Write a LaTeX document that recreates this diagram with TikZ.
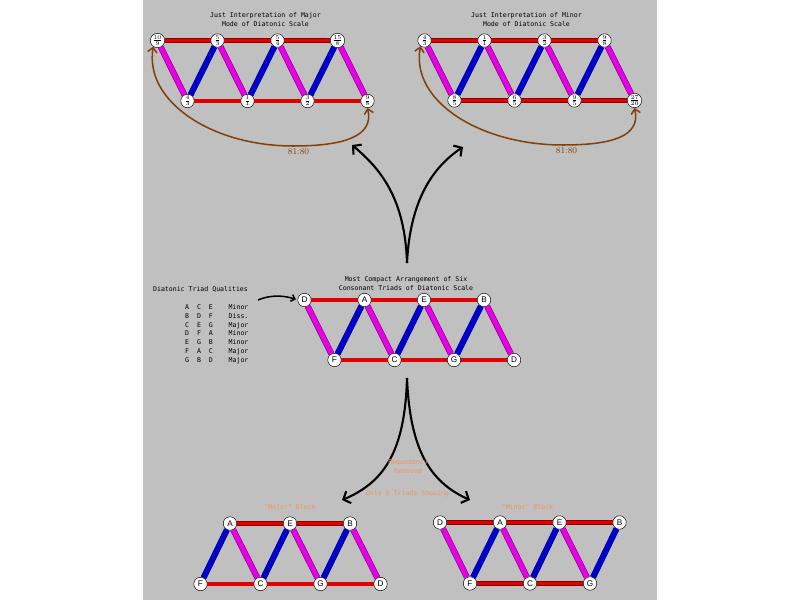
\documentclass[tikz,border=0pt]{standalone}
\usepackage{fontspec}
\usepackage{tikz}
\usetikzlibrary{arrows.meta}
\newfontfamily\monofont{DejaVu Sans Mono}
\newfontfamily\letterfont{Liberation Sans}
\definecolor{panel}{RGB}{192,192,192}
\definecolor{barred}{RGB}{225,0,0}
\definecolor{barblue}{RGB}{0,0,205}
\definecolor{barpink}{RGB}{230,0,230}
\definecolor{commabrown}{RGB}{130,65,10}
\definecolor{noteorange}{RGB}{245,145,95}

\tikzset{
  note/.style={circle, draw, fill=white, inner sep=0pt, minimum size=11.5pt,
    font=\letterfont\fontsize{7}{7}\selectfont},
  ratio/.style={note, font=\fontsize{6}{6}\selectfont},
  redbar/.style={draw=barred!60!black, double=barred, double distance=2.8pt, line width=0.5pt},
  bluebar/.style={draw=barblue!70!black, double=barblue, double distance=4.2pt, line width=0.5pt},
  pinkbar/.style={draw=barpink!55!black, double=barpink, double distance=4.2pt, line width=0.5pt},
  caption/.style={font=\monofont\fontsize{5.6}{7.6}\selectfont, align=center, inner sep=0pt},
  remark/.style={caption, text=noteorange},
  bigarrow/.style={line width=1.8pt, -{Straight Barb[length=5pt, width=11pt]}},
  smallarrow/.style={line width=1.3pt, -{Straight Barb[length=3pt, width=6pt]}},
  commaarrow/.style={commabrown, line width=1.3pt,
    {Straight Barb[length=4pt, width=8pt]}-{Straight Barb[length=4pt, width=8pt]}}
}

\begin{document}
\begin{tikzpicture}[x=0.03cm, y=-0.03cm]
\fill[white] (0,0) rectangle (800,600);
\fill[panel] (143,0) rectangle (657,600);
\useasboundingbox (0,0) rectangle (800,600);

% just intonation, major
\node[caption] (majTitle) at (265.5,20) {Just Interpretation of Major\\Mode of Diatonic Scale};
\node[ratio] (majD) at (157.5,40.5) {$\frac{10}{9}$};
\node[ratio] (majA) at (217.5,40.5) {$\frac{5}{3}$};
\node[ratio] (majE) at (277.5,40.5) {$\frac{5}{4}$};
\node[ratio] (majB) at (337.5,40.5) {$\frac{15}{8}$};
\node[ratio] (majF) at (187.5,101) {$\frac{4}{3}$};
\node[ratio] (majC) at (247.5,101) {$\frac{1}{1}$};
\node[ratio] (majG) at (307.5,101) {$\frac{3}{2}$};
\node[ratio] (majDD) at (367.5,101) {$\frac{9}{8}$};
\draw[redbar] (majD) -- (majA) -- (majE) -- (majB) (majF) -- (majC) -- (majG) -- (majDD);
\draw[pinkbar] (majD) -- (majF) (majA) -- (majC) (majE) -- (majG) (majB) -- (majDD);
\draw[bluebar] (majF) -- (majA) (majC) -- (majE) (majG) -- (majB);
\coordinate (majDip) at (293,146);
\draw[commaarrow] (majD.235) .. controls +(-9,55) and (212,146) .. (majDip)
  .. controls (345,146) and (374,136) .. (majDD.south);
\node[commabrown, font=\fontsize{7.5}{8}\selectfont] (majComma) at (298.5,151.5) {81:80};

% just intonation, minor
\node[caption] (minTitle) at (526.5,20) {Just Interpretation of Minor\\Mode of Diatonic Scale};
\node[ratio] (minD) at (424.5,40.5) {$\frac{4}{3}$};
\node[ratio] (minA) at (484.5,40.5) {$\frac{1}{1}$};
\node[ratio] (minE) at (544.5,40.5) {$\frac{3}{2}$};
\node[ratio] (minB) at (604.5,40.5) {$\frac{9}{8}$};
\node[ratio] (minF) at (454.5,100.5) {$\frac{8}{5}$};
\node[ratio] (minC) at (514.5,100.5) {$\frac{6}{5}$};
\node[ratio] (minG) at (574.5,100.5) {$\frac{9}{5}$};
\node[ratio] (minDD) at (634.5,100.5) {$\frac{27}{20}$};
\draw[redbar] (minD) -- (minA) -- (minE) -- (minB) (minF) -- (minC) -- (minG) -- (minDD);
\draw[pinkbar] (minD) -- (minF) (minA) -- (minC) (minE) -- (minG) (minB) -- (minDD);
\draw[bluebar] (minF) -- (minA) (minC) -- (minE) (minG) -- (minB);
\coordinate (minDip) at (563,145);
\draw[commaarrow] (minD.235) .. controls +(-10,55) and (480,145) .. (minDip)
  .. controls (613,145) and (641,136) .. (minDD.south);
\node[commabrown, font=\fontsize{7.5}{8}\selectfont] (minComma) at (566.5,151) {81:80};

% arrows up
\coordinate (forkUp) at (407,263);
\coordinate (toMajor) at (352,145);
\coordinate (toMinor) at (463,147);
\draw[bigarrow] (forkUp) .. controls (405,200) and (382,170) .. (toMajor);
\draw[bigarrow] (forkUp) .. controls (410,200) and (433,167) .. (toMinor);

% triad table
\node[caption] (tableTitle) at (200.5,289.5) {Diatonic Triad Qualities};
\node[caption, align=left, anchor=north west] (tableRows) at (185,304)
  {A\ \ C\ \ E\ \ \ \ Minor\\B\ \ D\ \ F\ \ \ \ Diss.\\C\ \ E\ \ G\ \ \ \ Major\\D\ \ F\ \ A\ \ \ \ Minor\\
   E\ \ G\ \ B\ \ \ \ Minor\\F\ \ A\ \ C\ \ \ \ Major\\G\ \ B\ \ D\ \ \ \ Major};

% compact arrangement
\node[caption] (midTitle) at (406,284) {Most Compact Arrangement of Six\\Consonant Triads of Diatonic Scale};
\node[note] (midD) at (304.5,300) {D};
\node[note] (midA) at (364.5,300) {A};
\node[note] (midE) at (424,300) {E};
\node[note] (midB) at (484,300) {B};
\node[note] (midF) at (334.5,360) {F};
\node[note] (midC) at (394.5,360) {C};
\node[note] (midG) at (454,360) {G};
\node[note] (midDD) at (514,360) {D};
\draw[redbar] (midD) -- (midA) -- (midE) -- (midB) (midF) -- (midC) -- (midG) -- (midDD);
\draw[pinkbar] (midD) -- (midF) (midA) -- (midC) (midE) -- (midG) (midB) -- (midDD);
\draw[bluebar] (midF) -- (midA) (midC) -- (midE) (midG) -- (midB);
\coordinate (tableEnd) at (258,300);
\draw[smallarrow, shorten >=1.5pt] (tableEnd) .. controls (272,294) and (286,296) .. (midD.west);

% arrows down
\coordinate (forkDown) at (407,378);
\coordinate (toMajBlock) at (342,500);
\coordinate (toMinBlock) at (470,500);
\draw[bigarrow] (forkDown) .. controls (405,450) and (385,482) .. (toMajBlock);
\draw[bigarrow] (forkDown) .. controls (410,450) and (430,482) .. (toMinBlock);
\node[remark] (redundancy) at (408,467) {Redundancy\\Removed};
\node[remark] (sixShown) at (407.5,494) {Only 5 Triads Showing};

% major block
\node[remark] (majBlockTitle) at (290,507.5) {"Major" Block};
\node[note] (mbA) at (230,523.5) {A};
\node[note] (mbE) at (290,523.5) {E};
\node[note] (mbB) at (350,523.5) {B};
\node[note] (mbF) at (200.5,584) {F};
\node[note] (mbC) at (260.5,584) {C};
\node[note] (mbG) at (320.5,584) {G};
\node[note] (mbD) at (380.5,584) {D};
\draw[redbar] (mbA) -- (mbE) -- (mbB) (mbF) -- (mbC) -- (mbG) -- (mbD);
\draw[pinkbar] (mbA) -- (mbC) (mbE) -- (mbG) (mbB) -- (mbD);
\draw[bluebar] (mbF) -- (mbA) (mbC) -- (mbE) (mbG) -- (mbB);

% minor block
\node[remark] (minBlockTitle) at (527.5,507) {"Minor" Block};
\node[note] (nbD) at (440,522.5) {D};
\node[note] (nbA) at (500,522.5) {A};
\node[note] (nbE) at (559.5,522.5) {E};
\node[note] (nbB) at (619.5,522.5) {B};
\node[note] (nbF) at (470,583.5) {F};
\node[note] (nbC) at (530,583.5) {C};
\node[note] (nbG) at (590,583.5) {G};
\draw[redbar] (nbD) -- (nbA) -- (nbE) -- (nbB) (nbF) -- (nbC) -- (nbG);
\draw[pinkbar] (nbD) -- (nbF) (nbA) -- (nbC) (nbE) -- (nbG);
\draw[bluebar] (nbF) -- (nbA) (nbC) -- (nbE) (nbG) -- (nbB);

\end{tikzpicture}
\end{document}
